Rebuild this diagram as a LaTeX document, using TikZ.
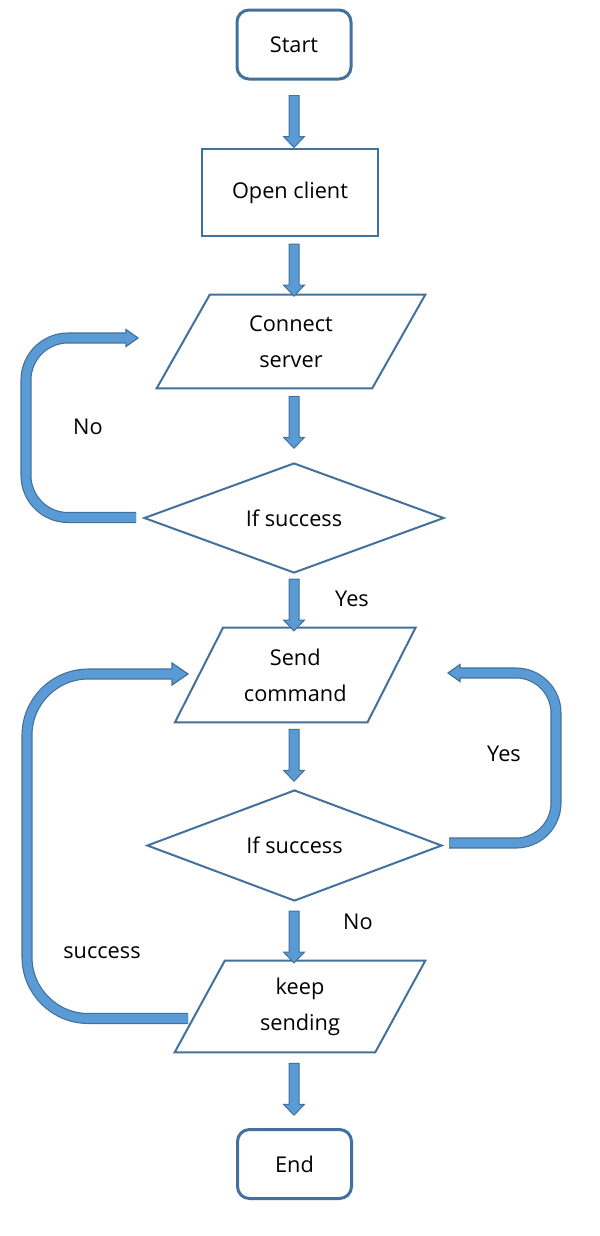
\documentclass[tikz,border=0pt]{standalone}
\usepackage{fontspec}
\setmainfont{Open Sans}
\usetikzlibrary{calc,shapes.geometric}
\definecolor{dk}{HTML}{41719C}
\definecolor{lb}{HTML}{5B9BD5}
\tikzset{
  txt/.style={font=\fontsize{16.3pt}{27pt}\selectfont, text=black, align=center},
  term/.style={txt, draw=dk, line width=2.25pt, rounded corners=9pt, minimum width=85.5pt, minimum height=51.75pt, inner sep=0pt},
  proc/.style={txt, draw=dk, line width=1.6pt, minimum width=132pt, minimum height=65.25pt, inner sep=0pt},
  iobox/.style={txt, inner sep=0pt},
  dec/.style={txt, draw=dk, line width=1.5pt, diamond, inner sep=0pt},
  shp/.style={draw=dk, line width=1.5pt, line join=miter},
  blk/.style={draw=dk, fill=lb, line width=0.75pt, line join=miter},
  band/.style={draw=dk, line width=0.9pt, double=lb, double distance=6.5pt},
  lbl/.style={txt}
}
% vertical block arrow: start point, gap
\newcommand\varr[2]{\draw[blk] ($#1+(0,#2)$) +(-5,0) -- +(-5,41) -- +(-10.5,41) -- +(0,52) -- +(10.5,41) -- +(5,41) -- +(5,0) -- cycle;}
% parallelogram around a node: name, half slant
\newcommand\paral[2]{\draw[shp] ($(#1.north west)+(#2,0)$) -- ($(#1.north east)+(#2,0)$) -- ($(#1.south east)+(-#2,0)$) -- ($(#1.south west)+(-#2,0)$) -- cycle;}
% block head: tip coord, length, half width, direction, band half width
\newcommand\bhead[5]{%
  \fill[lb] (#1) -- +({-1*(#4)*(#2)},{#3}) -- +({-1*(#4)*(#2)},{-1*(#3)}) -- cycle;
  \draw[dk,line width=0.9pt,line join=miter] (#1) +({-1*(#4)*(#2)},{#5}) -- +({-1*(#4)*(#2)},{#3}) -- +(0,0) -- +({-1*(#4)*(#2)},{-1*(#3)}) -- +({-1*(#4)*(#2)},{-1*(#5)});}
\begin{document}
\begin{tikzpicture}[x=0.75pt,y=-0.75pt]
\useasboundingbox (0,0) rectangle (600,1236);
\fill[white] (0,0) rectangle (600,1236);

\node[term] (start) at (294,44.5) {Start};
\node[proc] (open) at (290,192.5) {Open client};
\node[iobox, minimum width=161.25pt, minimum height=69.75pt] (conn) at (291,341.5) {Connect\\server};
\paral{conn}{26.5}
\node[dec, minimum width=225pt, minimum height=82.5pt, aspect=2.727] (d1) at (294,518) {If success};
\node[iobox, minimum width=144pt, minimum height=70.5pt] (send) at (295.25,675) {Send\\command};
\paral{send}{24}
\node[dec, minimum width=221.25pt, minimum height=83.25pt, aspect=2.66] (d2) at (294.5,845.5) {If success};
\node[iobox, minimum width=150pt, minimum height=68.25pt] (keep) at (300,1006.5) {keep\\sending};
\paral{keep}{25}
\node[term] (end) at (294.5,1164) {End};

% straight block arrows
\varr{(start.south)}{15}
\varr{(start.south |- open.south)}{7}
\varr{(start.south |- conn.south)}{8}
\varr{(start.south |- d1.south)}{5}
\varr{(start.south |- send.south)}{7}
\varr{(start.south |- d2.south)}{9}
\varr{(start.south |- keep.south)}{11}

% No loop
\coordinate (n1) at ($(d1.west)+(-7,-0.5)$);
\coordinate (n2) at ($(conn.center)+(-153,-3.5)$);
\draw[band, rounded corners=31.5pt] (n1) -- ++(-110,0) |- ($(n2)+(-12,0)$);
\bhead{n2}{12}{8.5}{1}{4.6}

% Yes loop (right)
\coordinate (y1) at ($(d2.east)+(6,-2.5)$);
\coordinate (y2) at ($(send.center)+(152.75,-2)$);
\draw[band, rounded corners=30pt] (y1) -- ++(107,0) |- ($(y2)+(12,0)$);
\bhead{y2}{12}{8.5}{-1}{4.6}

% success loop
\coordinate (s1) at ($(keep.center)+(-112,12)$);
\coordinate (s2) at ($(send.center)+(-107.25,-1)$);
\draw[band, rounded corners=46pt] (s1) -- ++(-161,0) |- ($(s2)+(-16,0)$);
\bhead{s2}{16}{11}{1}{4.6}

% labels
\node[lbl] (lno1) at (88,427) {No};
\node[lbl] (lyes1) at (352,599) {Yes};
\node[lbl] (lyes2) at (504,754) {Yes};
\node[lbl] (lno2) at (358,922) {No};
\node[lbl] (lsucc) at (102,953) {success};
\end{tikzpicture}
\end{document}
